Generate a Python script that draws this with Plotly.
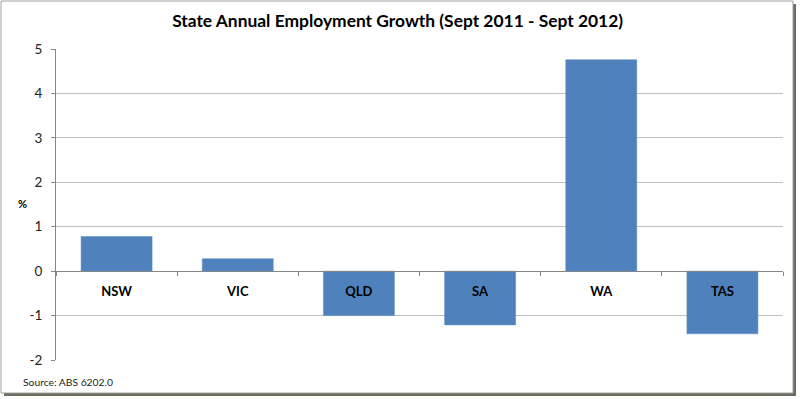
import plotly.graph_objects as go

states = ["NSW", "VIC", "QLD", "SA", "WA", "TAS"]
growth = [0.78, 0.28, -1.0, -1.21, 4.76, -1.41]
y_ticks = [-2, -1, 0, 1, 2, 3, 4, 5]

title_text = "State Annual Employment Growth (Sept 2011 - Sept 2012)"
source_text = "Source: ABS 6202.0"
y_label = "%"

FONT = "Lato"
BAR = "#4F81BD"
GRID = "#BFBFBF"
AXIS = "#868686"

W, H = 800, 399
L, R, T, B = 56, 17, 49, 39
PW, PH = W - L - R, H - T - B


def px(x):
    return (x - L) / PW


def py(y):
    return (H - B - y) / PH


fig = go.Figure(
    go.Bar(
        x=states,
        y=growth,
        marker=dict(color=BAR, line=dict(color="#5B8CC6", width=0.5)),
        hoverinfo="x+y",
    )
)

ymin, ymax = -2, 5
fig.update_layout(
    width=W,
    height=H,
    margin=dict(l=L, r=R, t=T, b=B),
    paper_bgcolor="white",
    plot_bgcolor="white",
    bargap=0.414,
    showlegend=False,
    font=dict(family=FONT, color="#000000"),
    title=dict(
        text="<b>" + title_text + "</b>",
        x=0.497,
        xanchor="center",
        y=1 - 21 / H,
        yanchor="middle",
        font=dict(family=FONT, size=17.4, color="#000000"),
    ),
    xaxis=dict(
        type="category",
        anchor="free",
        position=(0 - ymin) / (ymax - ymin),
        showline=True,
        linecolor=AXIS,
        linewidth=1,
        ticks="outside",
        tickson="boundaries",
        ticklen=4,
        tickcolor=AXIS,
        showgrid=False,
        tickfont=dict(family=FONT, size=13, color="#000000"),
        tickprefix="<b>",
        ticksuffix="</b>",
        ticklabelstandoff=8,
        fixedrange=True,
    ),
    yaxis=dict(
        range=[ymin, ymax],
        tickvals=y_ticks,
        ticktext=[str(v) for v in y_ticks],
        showline=True,
        linecolor=AXIS,
        linewidth=1,
        ticks="outside",
        ticklen=4,
        tickcolor=AXIS,
        showgrid=True,
        gridcolor=GRID,
        gridwidth=1,
        zeroline=False,
        tickfont=dict(family=FONT, size=13.5, color="#222222"),
        ticklabelstandoff=6,
        fixedrange=True,
    ),
    annotations=[
        dict(
            text="<b>" + y_label + "</b>",
            xref="paper", yref="paper",
            x=px(22), y=py(203),
            xanchor="center", yanchor="middle",
            showarrow=False,
            font=dict(family=FONT, size=11, color="#000000"),
        ),
        dict(
            text=source_text,
            xref="paper", yref="paper",
            x=px(21), y=py(382),
            xanchor="left", yanchor="middle",
            showarrow=False,
            font=dict(family=FONT, size=10.3, color="#222222"),
        ),
    ],
    shapes=[
        dict(type="rect", xref="paper", yref="paper",
             x0=px(4), x1=px(796), y0=py(396), y1=py(4),
             line=dict(width=0), fillcolor="#6E6E60", layer="below"),
        dict(type="rect", xref="paper", yref="paper",
             x0=px(1), x1=px(793), y0=py(393), y1=py(1),
             line=dict(color="#A0A0A0", width=1), fillcolor="white", layer="below"),
    ],
)

fig.write_html(
    "out.html",
    config={"displayModeBar": False},
    post_script="document.body.style.margin='0';document.body.style.overflow='hidden';",
)
